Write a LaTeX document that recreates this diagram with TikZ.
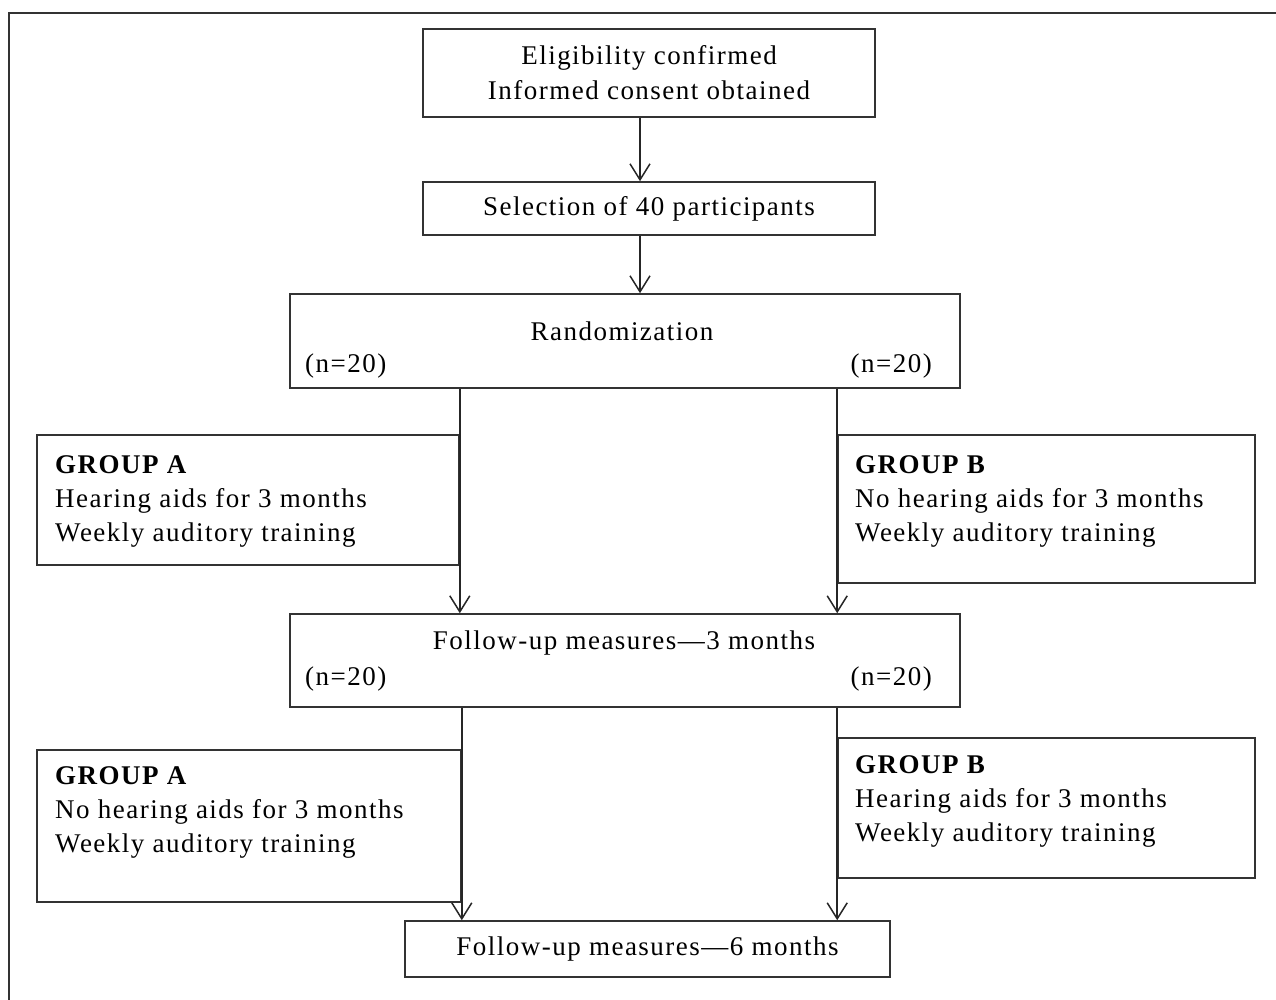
\documentclass[tikz,border=0pt]{standalone}
\usepackage{fontspec}
\setmainfont{Liberation Serif}[LetterSpace=5.5]
\usetikzlibrary{arrows.meta}
\begin{document}
\begin{tikzpicture}[x=1pt,y=-1pt,
	box/.style={draw=black!80,line width=1.6pt,inner sep=0pt},
	txt/.style={inner sep=0pt,align=center,font=\fontsize{27}{35}\selectfont},
	grptxt/.style={inner sep=0pt,align=left,anchor=north west,font=\fontsize{27}{34}\selectfont},
	arr/.style={draw=black!85,line width=1.6pt,-{Straight Barb[length=16pt,width=20pt,line width=1.5pt]}}]
	\clip (0,0) rectangle (1276,999);
	% outer frame
	\draw[box] (9,13) rectangle (1300,1020);
	% boxes
	\node[box,txt,minimum width=452pt,minimum height=88pt] (elig) at (649,73) {Eligibility confirmed\\Informed consent obtained};
	\node[box,txt,minimum width=452pt,minimum height=53pt] (sel) at (649,208.5) {Selection of 40 participants};
	\node[box,minimum width=670pt,minimum height=94pt] (rand) at (625,341) {};
	\node[txt] (randT) at (622,331) {Randomization};
	\node[txt,anchor=west] (randL) at (305,366) {(n=20)};
	\node[txt,anchor=east] (randR) at (932,366) {(n=20)};
	\node[box,minimum width=422pt,minimum height=130pt] (grpA1) at (248,500) {};
	\node[box,minimum width=417pt,minimum height=148pt] (grpB1) at (1046.5,509) {};
	\node[grptxt] (grpA1t) at (55,455) {\textbf{GROUP A}\\Hearing aids for 3 months\\Weekly auditory training};
	\node[grptxt] (grpB1t) at (855,455) {\textbf{GROUP B}\\No hearing aids for 3 months\\Weekly auditory training};
	\node[box,minimum width=670pt,minimum height=93pt] (fu3) at (625,660.5) {};
	\node[txt] (fu3T) at (624,643) {Follow-up measures—3 months};
	\node[txt,anchor=west] (fu3L) at (305,679) {(n=20)};
	\node[txt,anchor=east] (fu3R) at (932,679) {(n=20)};
	\node[box,minimum width=424pt,minimum height=152pt] (grpA2) at (249,826) {};
	\node[box,minimum width=417pt,minimum height=140pt] (grpB2) at (1046.5,808) {};
	\node[grptxt] (grpA2t) at (55,766) {\textbf{GROUP A}\\No hearing aids for 3 months\\Weekly auditory training};
	\node[grptxt] (grpB2t) at (855,755) {\textbf{GROUP B}\\Hearing aids for 3 months\\Weekly auditory training};
	\node[box,txt,minimum width=485pt,minimum height=56pt] (fu6) at (647.5,949) {Follow-up measures—6 months};
	% arrows
	\draw[arr] ([xshift=-9pt]elig.south) -- ([xshift=-9pt]elig.south |- sel.north);
	\draw[arr] ([xshift=-9pt]sel.south) -- ([xshift=-9pt]sel.south |- rand.north);
	\draw[arr] (rand.south -| grpA1.east) -- (fu3.north -| grpA1.east);
	\draw[arr] (rand.south -| grpB1.west) -- (fu3.north -| grpB1.west);
	\draw[arr] (fu3.south -| grpA2.east) -- (fu6.north -| grpA2.east);
	\draw[arr] (fu3.south -| grpB2.west) -- (fu6.north -| grpB2.west);
\end{tikzpicture}
\end{document}
